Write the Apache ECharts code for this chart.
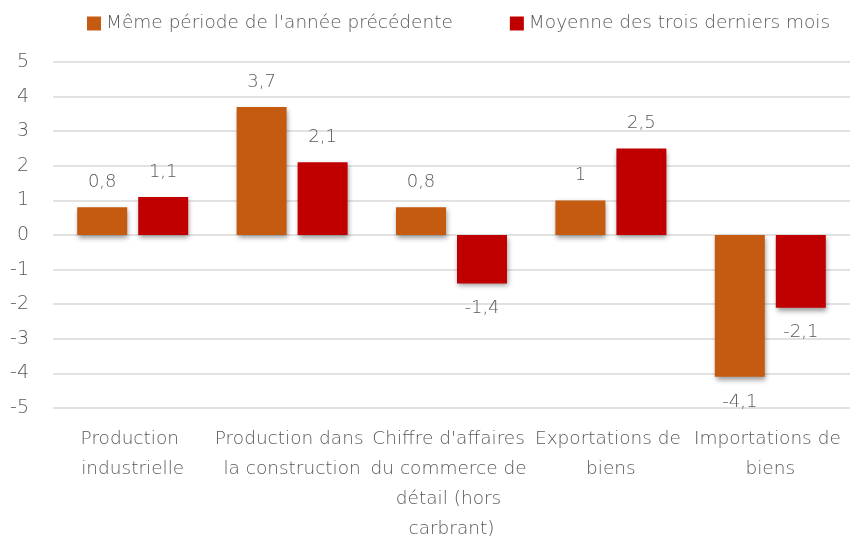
<!DOCTYPE html>
<html>
<head>
<meta charset="utf-8">
<script src="https://cdn.jsdelivr.net/npm/echarts@6/dist/echarts.min.js"></script>
<style>
  html, body { margin: 0; padding: 0; background: #fff; }
  #chart { width: 852px; height: 541px; }
</style>
</head>
<body>
<div id="chart"></div>
<script>
const categories = [
  'Production industrielle',
  'Production dans la construction',
  "Chiffre d'affaires du commerce de détail (hors carbrant)",
  'Exportations de biens',
  'Importations de biens',
]
const seriesNames = ["Même période de l'année précédente", 'Moyenne des trois derniers mois']
const sameYear = [0.8, 3.7, 0.8, 1, -4.1]
const threeMonths = [1.1, 2.1, -1.4, 2.5, -2.1]

const textColor = '#595959'
const font = '"DejaVu Sans", sans-serif'
const weight = 200

const fmt = (v) => String(v).replace('.', ',')

function barSeries(name, data, color) {
  return {
    name,
    type: 'bar',
    data: data.map((v) => ({
      value: v,
      label: { position: v < 0 ? 'bottom' : 'top' },
    })),
    barWidth: 50,
    barGap: '22%',
    itemStyle: {
      color,
      shadowColor: 'rgba(0,0,0,0.4)',
      shadowBlur: 5,
      shadowOffsetX: 1,
      shadowOffsetY: 3,
    },
    label: {
      show: true,
      distance: 16,
      color: textColor,
      fontSize: 18,
      fontFamily: font,
      fontWeight: weight,
      formatter: (p) => fmt(p.value),
    },
  }
}

const chart = echarts.init(document.getElementById('chart'))
chart.setOption({
  animation: false,
  legend: {
    top: 9,
    left: 82,
    itemWidth: 14,
    itemHeight: 14,
    itemGap: 57,
    icon: 'rect',
    textStyle: { color: textColor, fontSize: 18.5, fontFamily: font, fontWeight: weight },
    data: seriesNames,
  },
  grid: { top: 62, bottom: 133, left: 53, right: 2, outerBoundsMode: 'none' },
  xAxis: {
    type: 'category',
    data: categories,
    axisLine: { show: false },
    axisTick: { show: false },
    axisLabel: {
      interval: 0,
      margin: 16,
      color: textColor,
      fontSize: 18.5,
      fontFamily: font,
      fontWeight: weight,
      lineHeight: 30,
      width: 165,
      overflow: 'break',
    },
  },
  yAxis: {
    type: 'value',
    min: -5,
    max: 5,
    interval: 1,
    axisLine: { show: false },
    axisTick: { show: false },
    splitLine: { lineStyle: { color: '#d9d9d9', width: 1.5 } },
    axisLabel: {
      margin: 24,
      color: textColor,
      fontSize: 19,
      fontFamily: font,
      fontWeight: weight,
    },
  },
  series: [
    barSeries(seriesNames[0], sameYear, '#C55A11'),
    barSeries(seriesNames[1], threeMonths, '#C00000'),
  ],
})
</script>
</body>
</html>
